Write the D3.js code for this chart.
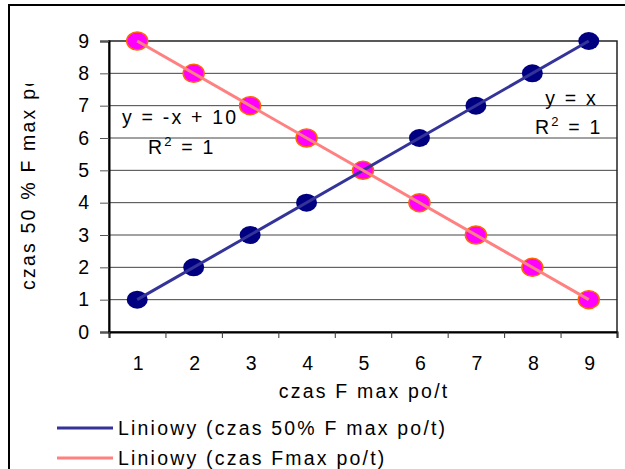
<!DOCTYPE html>
<html>
<head>
<meta charset="utf-8">
<script src="https://cdn.jsdelivr.net/npm/d3@7"></script>
<style>
  body { margin: 0; background: #fff; }
  svg { display: block; font-family: "Liberation Sans", Arial, sans-serif; }
</style>
</head>
<body>
<svg id="chart" width="625" height="469"></svg>
<script>
const categories = [1, 2, 3, 4, 5, 6, 7, 8, 9];
const seriesRise = [1, 2, 3, 4, 5, 6, 7, 8, 9];   // czas 50% F max po/t
const seriesFall = [9, 8, 7, 6, 5, 4, 3, 2, 1];   // czas Fmax po/t
const yTicks = [0, 1, 2, 3, 4, 5, 6, 7, 8, 9];
const legendLabels = ['Liniowy (czas 50% F max po/t)', 'Liniowy (czas Fmax po/t)'];

const svg = d3.select('#chart');
const plotL = 109, plotR = 617, plotT = 41, plotB = 332;
const fontSize = 19.5;
const spacing = 2.2;

const x = d3.scaleLinear().domain([0.5, 9.5]).range([plotL, plotR]);
const y = d3.scaleLinear().domain([0, 9]).range([plotB, plotT]);

// least squares fit for trendlines
const fit = (xs, ys) => {
  const mx = d3.mean(xs), my = d3.mean(ys);
  const b = d3.sum(xs, (v, i) => (v - mx) * (ys[i] - my)) / d3.sum(xs, (v) => (v - mx) ** 2);
  return { b, a: my - b * mx };
};

// outer frame
svg.append('path')
  .attr('d', `M9,480 L9,5 L640,5`)
  .attr('fill', 'none')
  .attr('stroke', '#000')
  .attr('stroke-width', 2);

// gridlines
svg.append('g')
  .selectAll('line')
  .data(yTicks.slice(1, -1))
  .enter()
  .append('line')
  .attr('x1', plotL).attr('x2', plotR)
  .attr('y1', (d) => y(d)).attr('y2', (d) => y(d))
  .attr('stroke', '#444')
  .attr('stroke-width', 1);

// plot border
svg.append('rect')
  .attr('x', plotL).attr('y', plotT)
  .attr('width', plotR - plotL).attr('height', plotB - plotT)
  .attr('fill', 'none')
  .attr('stroke', '#222')
  .attr('stroke-width', 1.5);

// y axis
const yAxis = svg.append('g')
  .attr('transform', `translate(${plotL},0)`)
  .call(d3.axisLeft(y).tickValues(yTicks).tickSize(9).tickPadding(11));
yAxis.select('.domain').attr('stroke', '#000').attr('stroke-width', 2);
yAxis.selectAll('.tick line').attr('stroke', '#555');
yAxis.selectAll('.tick text')
  .attr('font-size', fontSize)
  .attr('fill', '#000')
  .attr('font-family', '"Liberation Sans", Arial, sans-serif');

// x axis: ticks between categories
const xAxis = svg.append('g')
  .attr('transform', `translate(0,${plotB})`)
  .call(d3.axisBottom(x).tickValues(d3.range(0.5, 10, 1)).tickSize(6).tickFormat(''));
xAxis.select('.domain').attr('stroke', '#000').attr('stroke-width', 2);
xAxis.selectAll('.tick line').attr('stroke', '#333');

svg.append('g')
  .selectAll('text')
  .data(categories)
  .enter()
  .append('text')
  .attr('x', (d) => x(d) + 1)
  .attr('y', plotB + 38)
  .attr('text-anchor', 'middle')
  .attr('font-size', fontSize)
  .text((d) => d);

// axis titles
svg.append('text')
  .attr('x', (plotL + plotR) / 2 + spacing / 2)
  .attr('y', 398)
  .attr('text-anchor', 'middle')
  .attr('font-size', fontSize)
  .attr('letter-spacing', spacing)
  .text('czas F max po/t');

svg.append('clipPath').attr('id', 'ylabClip')
  .append('rect').attr('x', 0).attr('y', 84).attr('width', 60).attr('height', 260);

svg.append('g')
  .attr('clip-path', 'url(#ylabClip)')
  .append('text')
  .attr('transform', 'translate(35,290) rotate(-90)')
  .attr('font-size', fontSize)
  .attr('letter-spacing', spacing)
  .text('czas 50 % F max po/t');

// markers
const drawMarkers = (values, fill, stroke) => {
  svg.append('g')
    .selectAll('ellipse')
    .data(values)
    .enter()
    .append('ellipse')
    .attr('cx', (d, i) => x(categories[i]))
    .attr('cy', (d) => y(d))
    .attr('rx', 10.5)
    .attr('ry', 9)
    .attr('fill', fill)
    .attr('stroke', stroke)
    .attr('stroke-width', stroke === 'none' ? 0 : 1.5);
};
drawMarkers(seriesRise, '#000080', 'none');
drawMarkers(seriesFall, '#ff00ff', '#ff6600');

// trendlines
const drawTrend = (values, color) => {
  const { a, b } = fit(categories, values);
  const x0 = d3.min(categories), x1 = d3.max(categories);
  svg.append('line')
    .attr('x1', x(x0)).attr('y1', y(a + b * x0))
    .attr('x2', x(x1)).attr('y2', y(a + b * x1))
    .attr('stroke', color)
    .attr('stroke-width', 3);
};
drawTrend(seriesRise, '#333399');
drawTrend(seriesFall, '#ff8080');

// equations
const eq = (tx, ty, text, anchor) => {
  svg.append('text')
    .attr('x', tx).attr('y', ty)
    .attr('text-anchor', anchor)
    .attr('font-size', fontSize)
    .attr('letter-spacing', spacing)
    .text(text);
};
eq(122, 124, 'y = -x + 10', 'start');
eq(598, 105, 'y = x', 'end');

const r2 = (tx, ty) => {
  const t = svg.append('text')
    .attr('x', tx).attr('y', ty)
    .attr('font-size', fontSize)
    .attr('letter-spacing', spacing);
  t.append('tspan').text('R');
  t.append('tspan').attr('dy', -8).attr('font-size', 13).text('2');
  t.append('tspan').attr('dy', 8).text(' = 1');
};
r2(148, 154);
r2(535, 134);

// legend
const legendColors = ['#333399', '#ff8080'];
const legend = svg.append('g');
legendLabels.forEach((label, i) => {
  const ly = 428 + i * 30;
  legend.append('line')
    .attr('x1', 57).attr('x2', 113)
    .attr('y1', ly).attr('y2', ly)
    .attr('stroke', legendColors[i])
    .attr('stroke-width', 3);
  legend.append('text')
    .attr('x', 118).attr('y', ly + 7)
    .attr('font-size', fontSize)
    .attr('letter-spacing', spacing)
    .text(label);
});
</script>
</body>
</html>
